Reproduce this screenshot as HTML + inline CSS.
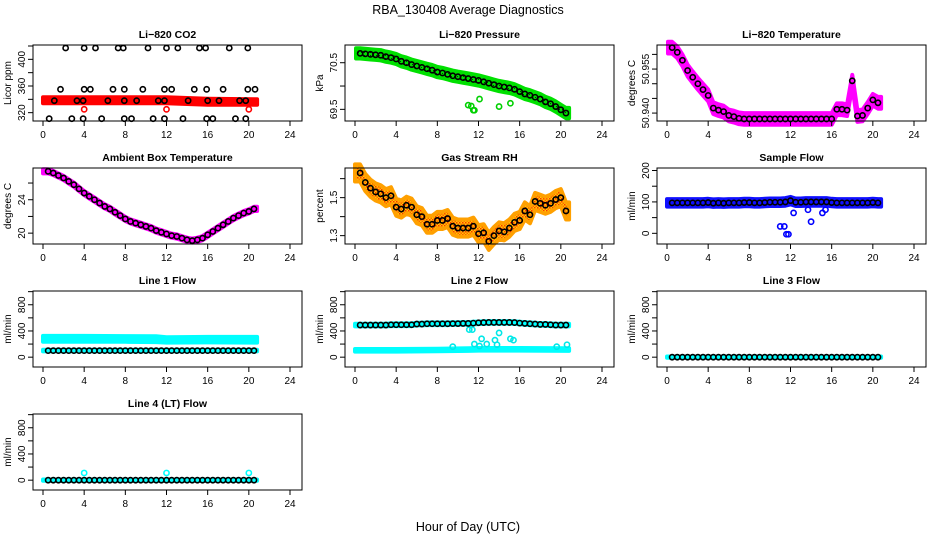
<!DOCTYPE html>
<html><head><meta charset="utf-8"><style>
body{margin:0;background:#fff}
svg{display:block;font-family:"Liberation Sans",sans-serif}
</style></head><body>
<svg id="chart" width="936" height="540" viewBox="0 0 936 540" xmlns="http://www.w3.org/2000/svg">
<defs>
<pattern id="pgreen" width="3" height="3" patternUnits="userSpaceOnUse"><rect width="3" height="3" fill="#00e000"/><rect x="1" y="1" width="1" height="1" fill="#004000"/></pattern>
<pattern id="porange" width="3" height="3" patternUnits="userSpaceOnUse"><rect width="3" height="3" fill="#ffd000"/><rect x="0" y="0" width="1.5" height="1.5" fill="#ff3000"/><rect x="1.5" y="1.5" width="1.5" height="1.5" fill="#ff6000"/></pattern>
</defs>
<text x="468" y="14" font-size="12.5" text-anchor="middle">RBA_130408  Average Diagnostics</text>
<text x="468" y="531" font-size="12.5" text-anchor="middle">Hour of Day (UTC)</text>
</svg>
<script>
const hours=[0.5,1,1.5,2,2.5,3,3.5,4,4.5,5,5.5,6,6.5,7,7.5,8,8.5,9,9.5,10,10.5,11,11.5,12,12.5,13,13.5,14,14.5,15,15.5,16,16.5,17,17.5,18,18.5,19,19.5,20,20.5];
const xTicks=[0,4,8,12,16,20,24];
// CO2
const co2Hours=[2.2,4,5.1,7.3,7.8,10.2,12,13.1,15.2,15.8,18.1,19.9, 1.7,4,4.6,6.8,7.9,9.7,11.8,12.5,14.7,15.9,17.5,19.9,20.6, 1.1,3.3,3.9,6.3,7.9,9.1,11.2,11.8,14.1,16,17.1,19.1,19.7, 0.6,2.8,3.9,5.7,7.9,8.6,10.7,11.8,13.6,15.9,16.5,18.7,19.7];
const co2Vals=[417,417,417,417,417,417,417,417,417,417,417,417, 355,355,355,355,355,355,355,355,355,355,355,355,355, 338,338,338,338,338,338,338,338,338,338,338,338,338, 311,311,311,311,311,311,311,311,311,311,311,311,311];
const co2BandHours=[0,4,8,12,16,20.8];
const co2BandLo=[334,334,334,334,332,332];
const co2BandHi=[343,343,343,343,341,340];
const co2OutHours=[4,12,20];
const co2OutVals=[325,325,325];
// Pressure
const pressVals=[70.70,70.69,70.68,70.67,70.66,70.63,70.61,70.58,70.53,70.50,70.46,70.43,70.40,70.37,70.34,70.30,70.28,70.25,70.22,70.20,70.18,70.16,70.14,70.12,70.09,70.06,70.03,70.00,69.98,69.96,69.93,69.88,69.83,69.80,69.76,69.72,69.66,69.62,69.56,69.49,69.42];
const pressOutHours=[11,11.3,11.5,11.6,12.1,14,15.1];
const pressOutVals=[69.59,69.57,69.48,69.48,69.72,69.56,69.63];
// Li-820 temperature
const ltempVals=[50.9623,50.9607,50.958,50.9545,50.9522,50.950,50.948,50.946,50.9417,50.941,50.9405,50.9392,50.9388,50.9382,50.938,50.938,50.938,50.938,50.938,50.938,50.938,50.938,50.938,50.938,50.938,50.938,50.938,50.938,50.938,50.938,50.938,50.938,50.9413,50.9413,50.941,50.951,50.939,50.9392,50.9417,50.9445,50.9435];
// Ambient
const ambVals=[27.4,27.2,26.9,26.6,26.2,25.8,25.3,24.8,24.4,24.0,23.6,23.2,22.9,22.5,22.1,21.7,21.4,21.2,21.0,20.8,20.6,20.3,20.1,19.9,19.7,19.6,19.4,19.2,19.1,19.2,19.4,19.8,20.2,20.6,21.0,21.4,21.8,22.1,22.4,22.6,22.9];
// RH
const rhVals=[1.63,1.58,1.55,1.53,1.52,1.50,1.51,1.45,1.44,1.46,1.45,1.41,1.40,1.36,1.36,1.38,1.38,1.39,1.35,1.34,1.34,1.34,1.35,1.31,1.315,1.27,1.30,1.325,1.32,1.34,1.37,1.38,1.43,1.41,1.48,1.47,1.46,1.47,1.49,1.50,1.43];
// Sample flow
const sampVals=[97,97,97,97,97,97,97,98,96,97,96,97,97,97,98,98,97,97,98,99,99,99,100,104,99,99,100,100,100,100,100,98,97,97,97,97,97,97,97,98,97];
const sampOutHours=[11,11.4,11.6,11.8,12.3,13.7,14,15.1,15.4];
const sampOutVals=[22,22,-3,-3,65,75,37,65,75];
// Line flows
const l1Vals=[100,100,100,100,100,100,100,100,100,100,100,100,100,100,100,100,100,100,100,100,100,100,100,100,100,100,100,100,100,100,100,100,100,100,100,100,100,100,100,100,100];
const l1UpperBandHours=[0,4,8,11,12,16,20.8];
const l1UpperLo=[235,235,235,230,222,225,222];
const l1UpperHi=[325,325,322,320,305,310,310];
const l2Vals=[490,490,490,490,490,490,495,495,495,495,495,505,505,510,510,510,510,510,512,512,515,515,520,525,528,530,530,530,530,530,528,520,515,510,505,500,500,495,490,490,490];
const l2LowerHours=[0,4,8,11,12,16,20.8];
const l2LowerLo=[85,85,90,95,100,100,95];
const l2LowerHi=[125,125,130,135,140,140,135];
const l2OutHours=[9.5,11.1,11.4,11.6,12.1,12.3,12.8,13.6,13.8,14,15.1,15.4,19.6,20.6];
const l2OutVals=[160,420,420,200,170,280,200,260,190,370,280,260,160,190];
const l3Vals=[0,0,0,0,0,0,0,0,0,0,0,0,0,0,0,0,0,0,0,0,0,0,0,0,0,0,0,0,0,0,0,0,0,0,0,0,0,0,0,0,0];
const l4Vals=[0,0,0,0,0,0,0,0,0,0,0,0,0,0,0,0,0,0,0,0,0,0,0,0,0,0,0,0,0,0,0,0,0,0,0,0,0,0,0,0,0];
const l4OutHours=[4,12,20];
const l4OutVals=[110,110,110];

const NS='http://www.w3.org/2000/svg';
const svg=document.getElementById('chart');
function mk(tag,attrs,parent){const e=document.createElementNS(NS,tag);for(const k in attrs)e.setAttribute(k,attrs[k]);(parent||svg).appendChild(e);return e;}

function panel(o){
  const g=mk('g',{});
  
  
  const L=33+312*o.c,R=302+312*o.c,T=45+123*o.r,B=121+123*o.r;
  const x0=43+312*o.c,xs=247/24;
  const X=h=>x0+h*xs;
  const Y=v=>B-(v-o.ymin)/(o.ymax-o.ymin)*(B-T);
  const t=mk('text',{x:(L+R)/2,y:T-7,'font-size':10.5,'font-weight':'bold','text-anchor':'middle'},g);
  t.textContent=o.title;
  
  
  (o.bands||[]).forEach(b=>{
    let d='';
    b.h.forEach((h,i)=>{d+=(i?'L':'M')+X(h).toFixed(1)+','+Y(b.hi[i]).toFixed(1);});
    for(let i=b.h.length-1;i>=0;i--)d+='L'+X(b.h[i]).toFixed(1)+','+Y(b.lo[i]).toFixed(1);
    const p=mk('path',{d:d+'Z',fill:b.color,stroke:b.color,'stroke-width':4,'stroke-linejoin':'round'},g);
    
    
  });
  (o.follow||[]).forEach(b=>{
    let d='';
    const hh=[b.start].concat(hours,[b.end]);
    const vv=[b.vals[0]].concat(b.vals,[b.vals[b.vals.length-1]]);
    hh.forEach((h,i)=>{d+=(i?'L':'M')+X(h).toFixed(1)+','+Y(vv[i]+b.w).toFixed(1);});
    for(let i=hh.length-1;i>=0;i--)d+='L'+X(hh[i]).toFixed(1)+','+Y(vv[i]-b.w).toFixed(1);
    const p=mk('path',{d:d+'Z',fill:b.color,stroke:b.stroke||b.color,'stroke-width':4,'stroke-linejoin':'round'},g);
    
    
  });
  (o.outs||[]).forEach(s=>{
    s.h.forEach((h,i)=>{
      const c=mk('circle',{cx:X(h),cy:Y(s.v[i]),r:2.6,fill:'none',stroke:s.color,'stroke-width':1.6},g);
      
      
    });
  });
  const bh=o.blackH||hours;
  bh.forEach((h,i)=>{
    const c=mk('circle',{cx:X(h),cy:Y(o.black[i]),r:2.6,fill:'none',stroke:'#000','stroke-width':1.6},g);
    
    
  });
  const box=mk('rect',{x:L,y:T,width:R-L,height:B-T,fill:'none',stroke:'#000','stroke-width':1},g);
  
  
  const xa=mk('g',{},g);
  
  
  mk('line',{x1:X(0),x2:X(24),y1:B,y2:B,stroke:'#000'},xa);
  xTicks.forEach(v=>{
    mk('line',{x1:X(v),x2:X(v),y1:B,y2:B+5,stroke:'#000'},xa);
    const tx=mk('text',{x:X(v),y:B+17,'font-size':10,'text-anchor':'middle'},xa);
    tx.textContent=v;
  });
  const ya=mk('g',{},g);
  
  
  const t0=o.yticks[0],t1=o.yticks[o.yticks.length-1];
  mk('line',{x1:L,x2:L,y1:Y(t0),y2:Y(t1),stroke:'#000'},ya);
  o.yticks.forEach(v=>mk('line',{x1:L,x2:L-5,y1:Y(v),y2:Y(v),stroke:'#000'},ya));
  o.ylabels.forEach((s,i)=>{
    const yy=Y(o.ylabelVals[i]);const xx=L-8;
    const tx=mk('text',{x:xx,y:yy,'font-size':10,'text-anchor':'middle',transform:`rotate(-90 ${xx} ${yy})`},ya);
    tx.textContent=s;
  });
  const yt=mk('text',{x:L-22,y:(T+B)/2,'font-size':10,'text-anchor':'middle',transform:`rotate(-90 ${L-22} ${(T+B)/2})`},ya);
  yt.textContent=o.ylab;
  
  
}

const flowTicks=[0,200,400,600,800,1000];
panel({name:'co2',title:'Li\u2212820 CO2',c:0,r:0,ymin:307.5,ymax:421.5,yticks:[320,340,360,380,400,420],ylabels:['320','360','400'],ylabelVals:[320,360,400],ylab:'Licor ppm',
  bands:[{h:co2BandHours,lo:co2BandLo,hi:co2BandHi,color:'#ff0000'}],outs:[{h:co2OutHours,v:co2OutVals,color:'#ff0000'}],blackH:co2Hours,black:co2Vals});
panel({name:'pressure',title:'Li\u2212820 Pressure',c:1,r:0,ymin:69.25,ymax:70.88,yticks:[69.5,70,70.5],ylabels:['69.5','70.5'],ylabelVals:[69.5,70.5],ylab:'kPa',
  follow:[{vals:pressVals,w:0.11,start:0.1,end:20.8,color:'url(#pgreen)',stroke:'#00e000'}],outs:[{h:pressOutHours,v:pressOutVals,color:'#00d000'}],black:pressVals});
panel({name:'li820-temperature',title:'Li\u2212820 Temperature',c:2,r:0,ymin:50.9373,ymax:50.9632,yticks:[50.940,50.945,50.950,50.955,50.960],ylabels:['50.940','50.955'],ylabelVals:[50.940,50.955],ylab:'degrees C',
  follow:[{vals:ltempVals,w:0.002,start:0.1,end:20.8,color:'#ff00ff'}],black:ltempVals});
panel({name:'ambient-temperature',title:'Ambient Box Temperature',c:0,r:1,ymin:18.7,ymax:27.8,yticks:[20,22,24,26],ylabels:['20','24'],ylabelVals:[20,24],ylab:'degrees C',
  follow:[{vals:ambVals,w:0.25,start:0,end:20.8,color:'#ff00ff'}],black:ambVals});
panel({name:'gas-rh',title:'Gas Stream RH',c:1,r:1,ymin:1.256,ymax:1.656,yticks:[1.3,1.4,1.5,1.6],ylabels:['1.3','1.5'],ylabelVals:[1.3,1.5],ylab:'percent',
  follow:[{vals:rhVals,w:0.045,start:0,end:20.8,color:'url(#porange)',stroke:'#ffa000'}],black:rhVals});
panel({name:'sample-flow',title:'Sample Flow',c:2,r:1,ymin:-34,ymax:208,yticks:[0,50,100,150,200],ylabels:['0','100','200'],ylabelVals:[0,100,200],ylab:'ml/min',
  follow:[{vals:sampVals,w:12,start:0,end:20.8,color:'#1010ff'}],outs:[{h:sampOutHours,v:sampOutVals,color:'#0000ff'}],black:sampVals});
panel({name:'line1-flow',title:'Line 1 Flow',c:0,r:2,ymin:-150,ymax:1010,yticks:flowTicks,ylabels:['0','400','800'],ylabelVals:[0,400,800],ylab:'ml/min',
  bands:[{h:l1UpperBandHours,lo:l1UpperLo,hi:l1UpperHi,color:'#00ffff'}],follow:[{vals:l1Vals,w:12,start:0,end:20.8,color:'#00ffff'}],black:l1Vals});
panel({name:'line2-flow',title:'Line 2 Flow',c:1,r:2,ymin:-150,ymax:1010,yticks:flowTicks,ylabels:['0','400','800'],ylabelVals:[0,400,800],ylab:'ml/min',
  bands:[{h:l2LowerHours,lo:l2LowerLo,hi:l2LowerHi,color:'#00ffff'}],follow:[{vals:l2Vals,w:20,start:0,end:20.8,color:'#00ffff'}],outs:[{h:l2OutHours,v:l2OutVals,color:'#00e8e8'}],black:l2Vals});
panel({name:'line3-flow',title:'Line 3 Flow',c:2,r:2,ymin:-150,ymax:1010,yticks:flowTicks,ylabels:['0','400','800'],ylabelVals:[0,400,800],ylab:'ml/min',
  follow:[{vals:l3Vals,w:10,start:0,end:20.8,color:'#00ffff'}],black:l3Vals});
panel({name:'line4-flow',title:'Line 4 (LT) Flow',c:0,r:3,ymin:-150,ymax:1010,yticks:flowTicks,ylabels:['0','400','800'],ylabelVals:[0,400,800],ylab:'ml/min',
  follow:[{vals:l4Vals,w:10,start:0,end:20.8,color:'#00ffff'}],outs:[{h:l4OutHours,v:l4OutVals,color:'#00ffff'}],black:l4Vals});
</script>
</body></html>
